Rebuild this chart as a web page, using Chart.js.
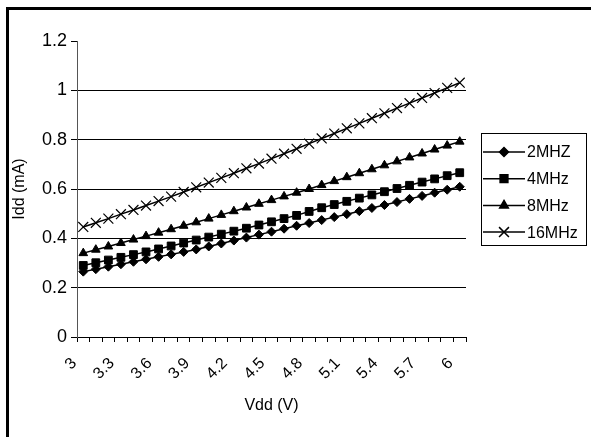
<!DOCTYPE html>
<html>
<head>
<meta charset="utf-8">
<script src="https://cdn.jsdelivr.net/npm/chart.js@4.4.0/dist/chart.umd.min.js"></script>
<style>
  body { margin: 0; background: #fff; }
  #wrap { position: relative; width: 591px; height: 437px; }
  #frame { position: absolute; left: 6px; top: 7px; right: -5px; bottom: -5px; border-top: 3px solid #000; border-left: 3px solid #000; }
  canvas { position: absolute; left: 0; top: 0; }
</style>
</head>
<body>
<div id="wrap">
  <div id="frame"></div>
  <canvas id="myChart" width="591" height="437"></canvas>
</div>
<script>
// Tensão de alimentação (V)
var categorias = ['3', '3.1', '3.2', '3.3', '3.4', '3.5', '3.6', '3.7', '3.8', '3.9',
  '4', '4.1', '4.2', '4.3', '4.4', '4.5', '4.6', '4.7', '4.8', '4.9',
  '5', '5.1', '5.2', '5.3', '5.4', '5.5', '5.6', '5.7', '5.8', '5.9', '6'];

// Rótulos mostrados no eixo X
var rotulosX = ['3', '3.3', '3.6', '3.9', '4.2', '4.5', '4.8', '5.1', '5.4', '5.7', '6'];

// Corrente (mA) para cada frequência
var idd2MHz = [0.265, 0.275, 0.285, 0.295, 0.305, 0.315, 0.325, 0.335, 0.345, 0.355,
  0.367, 0.379, 0.391, 0.403, 0.415, 0.427, 0.439, 0.451, 0.462, 0.474,
  0.486, 0.498, 0.510, 0.523, 0.535, 0.547, 0.560, 0.572, 0.585, 0.597, 0.609];
var idd4MHz = [0.290, 0.301, 0.312, 0.323, 0.334, 0.345, 0.357, 0.369, 0.381, 0.393,
  0.405, 0.417, 0.429, 0.441, 0.454, 0.467, 0.480, 0.493, 0.509, 0.524,
  0.537, 0.550, 0.563, 0.576, 0.589, 0.602, 0.615, 0.628, 0.641, 0.654, 0.666];
var idd8MHz = [0.340, 0.354, 0.367, 0.381, 0.395, 0.409, 0.423, 0.437, 0.451, 0.465,
  0.480, 0.495, 0.510, 0.525, 0.540, 0.555, 0.570, 0.585, 0.600, 0.616,
  0.632, 0.648, 0.664, 0.680, 0.696, 0.712, 0.728, 0.744, 0.760, 0.776, 0.792];
var idd16MHz = [0.446, 0.463, 0.480, 0.498, 0.515, 0.533, 0.551, 0.569, 0.588, 0.607,
  0.626, 0.645, 0.664, 0.684, 0.703, 0.723, 0.743, 0.763, 0.784, 0.805,
  0.825, 0.846, 0.866, 0.887, 0.907, 0.928, 0.948, 0.969, 0.989, 1.010, 1.031];

var fonte = 'Liberation Sans, Arial, sans-serif';

function serie(label, data, estilo, raio, espessuraPonto) {
  return {
    label: label,
    data: data,
    borderColor: '#000',
    backgroundColor: '#000',
    borderWidth: 1.5,
    pointStyle: estilo,
    pointRadius: raio,
    pointHoverRadius: raio,
    pointBackgroundColor: '#000',
    pointBorderColor: '#000',
    pointBorderWidth: espessuraPonto,
    tension: 0
  };
}

// Legenda desenhada à mão (linha + marcador, como no Excel)
var legendaExcel = {
  id: 'legendaExcel',
  afterDraw: function(chart) {
    var ctx = chart.ctx;
    var x = 481, y = 133, w = 105, h = 112;
    ctx.save();
    ctx.strokeStyle = '#000';
    ctx.lineWidth = 1;
    ctx.strokeRect(x + 0.5, y + 0.5, w, h);
    ctx.font = '16px ' + fonte;
    ctx.textBaseline = 'middle';
    ctx.fillStyle = '#000';
    chart.data.datasets.forEach(function(ds, i) {
      var ly = 152 + i * 26.7;
      ctx.beginPath();
      ctx.lineWidth = 1.5;
      ctx.moveTo(483, ly);
      ctx.lineTo(525, ly);
      ctx.stroke();
      Chart.helpers.drawPoint(ctx, {
        pointStyle: ds.pointStyle,
        radius: ds.pointRadius,
        borderWidth: ds.pointBorderWidth,
        rotation: 0
      }, 504, ly);
      ctx.fillStyle = '#000';
      ctx.strokeStyle = '#000';
      ctx.fill();
      ctx.fillText(ds.label, 527, ly + 1);
    });
    ctx.restore();
  }
};

var grafico = new Chart(document.getElementById('myChart').getContext('2d'), {
  type: 'line',
  data: {
    labels: categorias,
    datasets: [
      serie('2MHZ', idd2MHz, 'rectRot', 4.5, 1),
      serie('4MHz', idd4MHz, 'rect', 5.5, 1),
      serie('8MHz', idd8MHz, 'triangle', 5, 1),
      serie('16MHz', idd16MHz, 'crossRot', 7, 1.2)
    ]
  },
  options: {
    responsive: false,
    animation: false,
    layout: { padding: { left: 0, top: 41, right: 125, bottom: 0 } },
    plugins: {
      legend: { display: false },
      tooltip: { enabled: false }
    },
    scales: {
      x: {
        offset: true,
        afterFit: function(scale) { scale.height = 100; },
        grid: {
          offset: true,
          drawOnChartArea: false,
          drawTicks: true,
          tickLength: 5,
          color: '#000'
        },
        border: { color: '#000', width: 1 },
        ticks: {
          autoSkip: false,
          minRotation: 45,
          maxRotation: 45,
          padding: 12,
          labelOffset: -9,
          color: '#000',
          font: { family: fonte, size: 16 },
          callback: function(v, i) {
            var lab = categorias[i];
            return rotulosX.indexOf(lab) >= 0 ? lab : '';
          }
        },
        title: {
          display: true,
          text: 'Vdd (V)',
          color: '#000',
          font: { family: fonte, size: 16 },
          padding: { top: 0, bottom: 22 }
        }
      },
      y: {
        min: 0,
        max: 1.2,
        afterFit: function(scale) { scale.width = 77; },
        grid: {
          color: function(c) {
            return (c.tick && (c.tick.value === 0 || c.tick.value > 1.1)) ? 'rgba(0,0,0,0)' : '#000';
          },
          tickColor: '#000',
          tickLength: 6,
          lineWidth: 1
        },
        border: { color: '#555', width: 1 },
        ticks: {
          stepSize: 0.2,
          padding: 4,
          color: '#000',
          font: { family: fonte, size: 18 },
          callback: function(v) { return String(Number(v.toFixed(1))); }
        },
        title: {
          display: true,
          text: 'Idd (mA)',
          color: '#000',
          font: { family: fonte, size: 16 },
          padding: { top: 10, bottom: 0 }
        }
      }
    }
  },
  plugins: [legendaExcel]
});
</script>
</body>
</html>
